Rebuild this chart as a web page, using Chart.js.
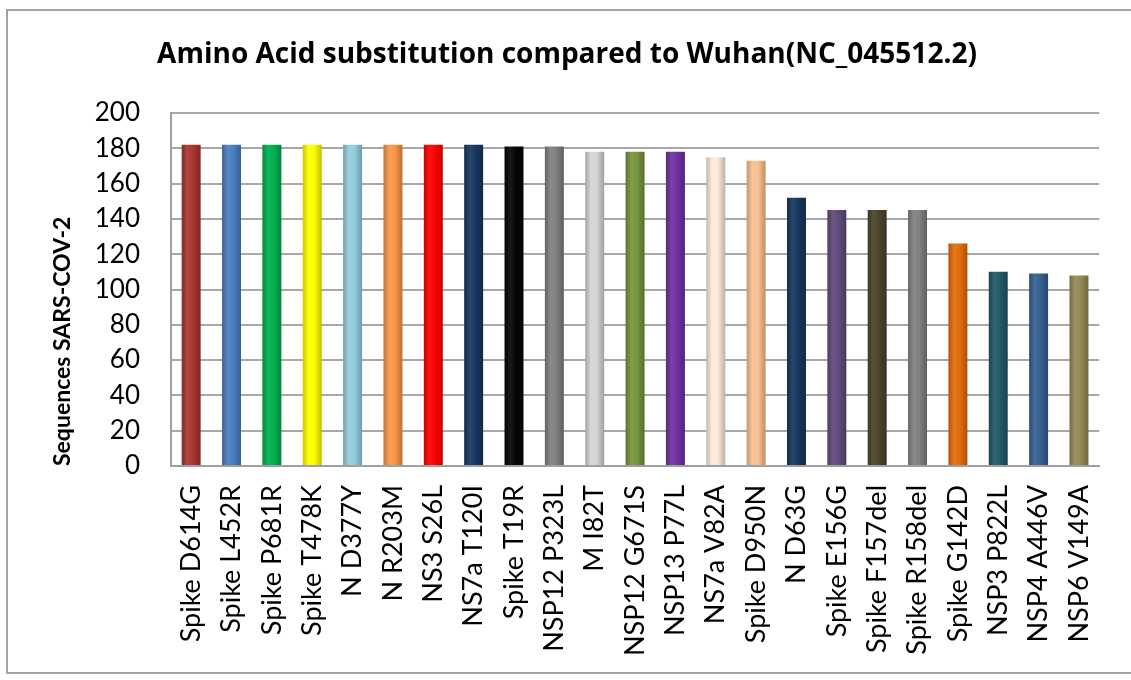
<!DOCTYPE html>
<html>
<head>
<meta charset="utf-8">
<script src="https://cdn.jsdelivr.net/npm/chart.js@4.4.1/dist/chart.umd.min.js"></script>
<style>
  html, body { margin: 0; padding: 0; background: #ffffff; overflow: hidden; }
  #frame { position: absolute; left: 6px; top: 9px; width: 1150px; height: 665px; border: 2px solid #a3a3a3; box-sizing: border-box; }
  #c { position: absolute; left: 0; top: 0; }
</style>
</head>
<body>
<div id="frame"></div>
<canvas id="c" width="1131" height="680"></canvas>
<script>
const categories = [
  "Spike D614G", "Spike L452R", "Spike P681R", "Spike T478K", "N D377Y", "N R203M",
  "NS3 S26L", "NS7a T120I", "Spike T19R", "NSP12 P323L", "M I82T", "NSP12 G671S",
  "NSP13 P77L", "NS7a V82A", "Spike D950N", "N D63G", "Spike E156G", "Spike F157del",
  "Spike R158del", "Spike G142D", "NSP3 P822L", "NSP4 A446V", "NSP6 V149A"
];
const sequenceCounts = [
  182, 182, 182, 182, 182, 182,
  182, 182, 181, 181, 178, 178,
  178, 175, 173, 152, 145, 145,
  145, 126, 110, 109, 108
];
const barColors = [
  "#a93532", "#4a7dc0", "#00b050", "#ffff00", "#92cddc", "#f79646",
  "#ff0000", "#17375e", "#050505", "#7f7f7f", "#d4d4d4", "#77933c",
  "#7030a0", "#fde9d9", "#fac090", "#17375e", "#604a7b", "#4a452a",
  "#808080", "#e46c0a", "#215968", "#366092", "#948a54"
];
const yTicks = [0, 20, 40, 60, 80, 100, 120, 140, 160, 180, 200];
const titleText = "Amino Acid substitution compared to Wuhan(NC_045512.2)";
const yTitleText = "Sequences SARS-COV-2";

function shade(hex, f) {
  const n = parseInt(hex.slice(1), 16);
  let r = (n >> 16) & 255, g = (n >> 8) & 255, b = n & 255;
  if (f < 0) { r = r * (1 + f); g = g * (1 + f); b = b * (1 + f); }
  else { r = r + (255 - r) * f; g = g + (255 - g) * f; b = b + (255 - b) * f; }
  return "rgb(" + Math.round(r) + "," + Math.round(g) + "," + Math.round(b) + ")";
}

const BAR_PCT = 0.47;

function barFill(ctx) {
  const base = barColors[ctx.dataIndex];
  const chart = ctx.chart;
  const area = chart.chartArea;
  const xs = chart.scales.x;
  if (!area || !xs || ctx.type !== "data") return base;
  const cx = xs.getPixelForValue(ctx.dataIndex);
  const w = area.width / categories.length * BAR_PCT;
  if (!isFinite(cx) || !isFinite(w)) return base;
  const g = chart.ctx.createLinearGradient(cx - w / 2, 0, cx + w / 2, 0);
  g.addColorStop(0, shade(base, -0.22));
  g.addColorStop(0.3, shade(base, 0.08));
  g.addColorStop(0.6, base);
  g.addColorStop(1, shade(base, -0.25));
  return g;
}

new Chart(document.getElementById("c"), {
  type: "bar",
  data: {
    labels: categories,
    datasets: [{
      data: sequenceCounts,
      backgroundColor: barFill,
      borderWidth: 0,
      barPercentage: BAR_PCT,
      categoryPercentage: 1.0
    }]
  },
  options: {
    responsive: false,
    animation: false,
    events: [],
    layout: { padding: { left: 32, right: 29, top: 0, bottom: 0 } },
    plugins: {
      legend: { display: false },
      tooltip: { enabled: false },
      title: {
        display: true,
        text: titleText,
        color: "#000000",
        font: { family: "Open Sans", size: 28, weight: "bold" },
        padding: { top: 38, bottom: 41.4 }
      }
    },
    scales: {
      x: {
        grid: { display: false, drawTicks: false },
        border: { display: true, color: "#a0a0a0", width: 2 },
        ticks: {
          color: "#000000",
          font: { family: "Lato", size: 27 },
          minRotation: 90,
          maxRotation: 90,
          autoSkip: false,
          padding: 19
        },
        afterFit: (s) => { s.height = 214; }
      },
      y: {
        min: 0,
        max: 200,
        afterBuildTicks: (s) => { s.ticks = yTicks.map(v => ({ value: v })); },
        grid: { color: "#a8a8a8", lineWidth: 2, drawTicks: false },
        border: { display: true, color: "#a0a0a0", width: 2 },
        ticks: {
          color: "#000000",
          font: { family: "Lato", size: 26 },
          padding: 31
        },
        title: {
          display: true,
          text: yTitleText,
          align: "start",
          color: "#000000",
          font: { family: "Lato", size: 23, weight: "bold" },
          padding: { top: 17, bottom: 0 }
        },
        afterFit: (s) => { s.width = 139; }
      }
    }
  }
});
</script>
</body>
</html>
